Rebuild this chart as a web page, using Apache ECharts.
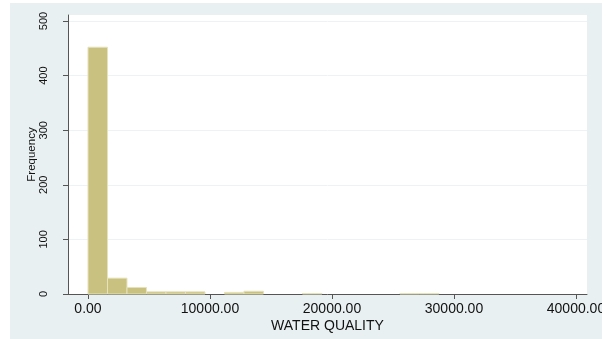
<!DOCTYPE html>
<html>
<head>
<meta charset="utf-8">
<script src="https://cdn.jsdelivr.net/npm/echarts@6/dist/echarts.min.js"></script>
<style>
  html, body { margin: 0; padding: 0; background: #ffffff; }
  #chart { width: 610px; height: 339px; }
</style>
</head>
<body>
<div id="chart"></div>
<script>
// Histogram of water quality readings: counts per bin of equal width
const binStart = 0;
const binWidth = 1598;
const binCounts = [452, 29, 12, 4, 4, 4, 0, 3, 5, 0, 0, 1, 0, 0, 0, 0, 1, 1];

// Axis tick values
const xTicks = [0, 10000, 20000, 30000, 40000];
const yTicks = [0, 100, 200, 300, 400, 500];

const bins = binCounts.map((c, i) => [binStart + i * binWidth, binStart + (i + 1) * binWidth, c]);

const chart = echarts.init(document.getElementById('chart'));

chart.setOption({
  backgroundColor: '#e9f0f2',
  animation: false,
  textStyle: { fontFamily: 'Liberation Sans, Arial, sans-serif' },
  grid: {
    left: 68, right: 23, top: 15, bottom: 45,
    show: true, backgroundColor: '#ffffff', borderWidth: 0
  },
  xAxis: {
    type: 'value',
    min: -1639, max: 40902,
    name: 'WATER QUALITY',
    nameLocation: 'middle',
    nameGap: 25,
    nameMoveOverlap: false,
    nameTextStyle: { fontSize: 14, color: '#111' },
    axisLine: { show: true, onZero: false, lineStyle: { color: '#555', width: 1 } },
    axisTick: { show: true, length: 5, lineStyle: { color: '#555' }, customValues: xTicks },
    axisLabel: {
      customValues: xTicks, fontSize: 14, color: '#111', margin: 8,
      formatter: v => v.toFixed(2)
    },
    splitLine: { show: false }
  },
  yAxis: {
    type: 'value',
    min: 0, max: 511,
    name: 'Frequency',
    nameLocation: 'middle',
    nameGap: 30,
    nameMoveOverlap: false,
    nameRotate: 90,
    nameTextStyle: { fontSize: 11.5, color: '#111' },
    axisLine: { show: true, onZero: false, lineStyle: { color: '#555', width: 1 } },
    axisTick: { show: true, length: 5, lineStyle: { color: '#555' }, customValues: yTicks },
    axisLabel: { customValues: yTicks, rotate: 90, fontSize: 11, color: '#111', margin: 19 },
    splitLine: { show: true, lineStyle: { color: '#edf3f4', width: 1 } }
  },
  series: [{
    type: 'custom',
    data: bins,
    encode: { x: [0, 1], y: 2 },
    renderItem: (params, api) => {
      const count = api.value(2);
      if (!count) return null;
      const topLeft = api.coord([api.value(0), count]);
      const bottomRight = api.coord([api.value(1), 0]);
      return {
        type: 'rect',
        shape: {
          x: topLeft[0], y: topLeft[1],
          width: bottomRight[0] - topLeft[0],
          height: bottomRight[1] - topLeft[1]
        },
        style: { fill: '#c9c17f', stroke: '#e6e2bd', lineWidth: 1 }
      };
    }
  }],
  graphic: [
    { type: 'rect', left: 0, top: 0, shape: { width: 10, height: 339 }, style: { fill: '#ffffff' }, z: 100 },
    { type: 'rect', left: 0, top: 0, shape: { width: 610, height: 3 }, style: { fill: '#ffffff' }, z: 100 },
    { type: 'rect', left: 602, top: 0, shape: { width: 8, height: 339 }, style: { fill: '#ffffff' }, z: 100 }
  ]
});
</script>
</body>
</html>
